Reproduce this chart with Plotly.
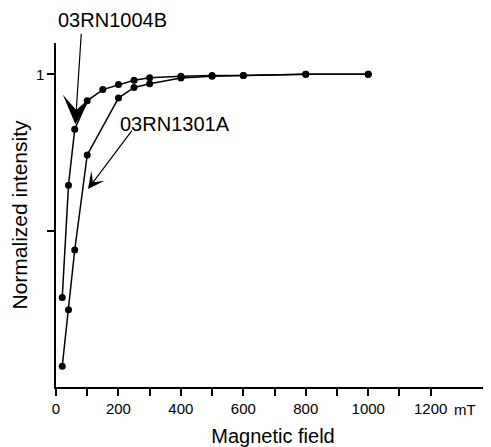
import plotly.graph_objects as go

# Data
field_b = [20, 40, 60, 100, 150, 200, 250, 300, 400, 500, 600, 800, 1000]
int_b = [0.286, 0.645, 0.824, 0.915, 0.951, 0.967, 0.981, 0.989, 0.994, 0.996, 0.996, 1.0, 1.0]
field_a = [20, 40, 60, 100, 200, 250, 300, 400, 500, 600, 800, 1000]
int_a = [0.066, 0.247, 0.438, 0.742, 0.924, 0.958, 0.970, 0.988, 0.994, 0.996, 1.0, 1.0]

x_tickvals = [0, 100, 200, 300, 400, 500, 600, 700, 800, 900, 1000, 1100, 1200]
x_ticktext = ["0", "", "200", "", "400", "", "600", "", "800", "", "1000", "", "1200"]
y_tickvals = [0.5, 1.0]
y_ticktext = ["", "1"]

FONT = "Liberation Sans, Arial, Helvetica, sans-serif"

fig = go.Figure()
for xs, ys in [(field_b, int_b), (field_a, int_a)]:
    fig.add_trace(go.Scatter(
        x=xs, y=ys, mode="lines+markers",
        line=dict(color="black", width=1.5),
        marker=dict(color="black", size=7),
        showlegend=False, cliponaxis=False,
    ))

# the page body adds an 8px margin, so the figure is 8px smaller on each axis
fig.update_layout(
    width=483, height=439,
    margin=dict(l=48, r=1, t=35, b=60),
    paper_bgcolor="white", plot_bgcolor="white",
    font=dict(family=FONT, color="black", size=15),
    xaxis=dict(
        range=[0, 1390], showgrid=False, zeroline=False,
        showline=True, linecolor="black", linewidth=1.5,
        ticks="outside", ticklen=7, tickwidth=1.5, tickcolor="black",
        tickvals=x_tickvals, ticktext=x_ticktext,
        tickfont=dict(size=15),
        title=dict(text="Magnetic field", font=dict(size=20), standoff=17),
        automargin=False,
    ),
    yaxis=dict(
        range=[0, 1.1], showgrid=False, zeroline=False,
        showline=True, linecolor="black", linewidth=1.5,
        ticks="outside", ticklen=7, tickwidth=1.5, tickcolor="black",
        tickvals=y_tickvals, ticktext=y_ticktext,
        tickfont=dict(size=15),
        title=dict(text="Normalized intensity", font=dict(size=21), standoff=5),
        automargin=False,
    ),
)

# unit label next to 1200
fig.add_annotation(x=1268, y=-0.066, xref="x", yref="paper", text="mT",
                   showarrow=False, xanchor="left", yanchor="middle",
                   font=dict(size=15))

# sample labels
fig.add_annotation(x=0.130, y=1.066, xref="paper", yref="paper", text="03RN1004B",
                   showarrow=False, xanchor="center", yanchor="middle",
                   font=dict(size=20))
fig.add_annotation(x=0.275, y=0.765, xref="paper", yref="paper", text="03RN1301A",
                   showarrow=False, xanchor="center", yanchor="middle",
                   font=dict(size=20))

# arrows
fig.add_annotation(x=62, y=0.84, xref="x", yref="y", text="", showarrow=True,
                   ax=6, ay=-92, arrowhead=3, arrowsize=4.0, arrowwidth=1.2,
                   arrowcolor="black", standoff=0)
fig.add_annotation(x=102.5, y=0.633, xref="x", yref="y", text="", showarrow=True,
                   ax=45, ay=-60, arrowhead=3, arrowsize=2.3, arrowwidth=1.2,
                   arrowcolor="black", standoff=0)

fig.write_html("out.html")
